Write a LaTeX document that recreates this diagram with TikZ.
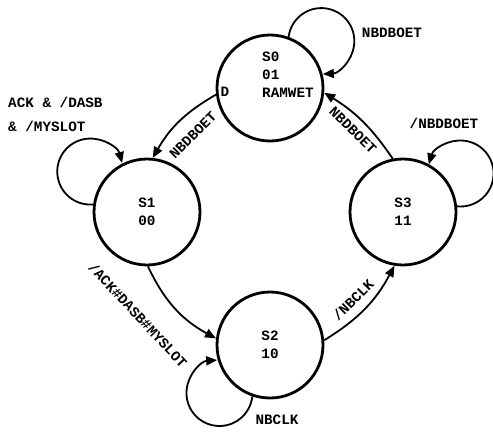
\documentclass[tikz,border=0pt]{standalone}
\usepackage{fontspec}
\setmainfont{Liberation Mono}
\usetikzlibrary{arrows.meta}
\newcommand\lblf{\bfseries\fontsize{14.3pt}{18pt}\selectfont}
\begin{document}
\begin{tikzpicture}[x=1pt,y=1pt,
  state/.style={circle,draw,line width=2.8pt,minimum size=106pt,inner sep=0pt,align=center,font=\lblf},
  txt/.style={font=\lblf,inner sep=0pt},
  edge/.style={line width=1.8pt,-{Triangle[length=11pt,width=9pt]}},
]
\path[use as bounding box] (0,0) rectangle (493,-432);
% states
\node[state] (S0) at (270,-88) {};
\node[txt,anchor=west,align=left] (S0t) at (262,-75) {S0\\01\\RAMWET};
\node[txt] (D) at (225,-92) {D};
\node[state] (S1) at (147,-212) {S1\\00};
\node[state] (S2) at (270,-345) {S2\\10};
\node[state] (S3) at (403,-212) {S3\\11};
% transitions
\draw[edge] (S0.187) to[bend right=15] (S1.84);
\draw[edge] (S1.-89) to[bend right=18] (S2.173);
\draw[edge] (S2.5) to[bend right=15] (S3.-99);
\draw[edge] (S3.101.5) to[bend right=12] (S0.-5);
% self loops
\draw[edge] (S0.70.1) arc[start angle=172.7, end angle=-87.3, radius=33];
\draw[edge] (S1.172.4) arc[start angle=275, end angle=15, radius=33];
\draw[edge] (S2.251.4) arc[start angle=354, end angle=94, radius=33];
\draw[edge] (S3.6.6) arc[start angle=-96, end angle=164, radius=33];
% labels
\node[txt] (L0) at (392,-33) {NBDBOET};
\node[txt,align=left,anchor=west] (L1) at (8,-114) {ACK \& /DASB\\[6pt]\& /MYSLOT};
\node[txt] (L2) at (444,-123) {/NBDBOET};
\node[txt] (L3) at (277,-420) {NBCLK};
\node[txt,rotate=45] (L4) at (193,-135) {NBDBOET};
\node[txt,rotate=-45] (L5) at (353,-130) {NBDBOET};
\node[txt,rotate=-47] (L6) at (138,-315) {/ACK\#DASB\#MYSLOT};
\node[txt,rotate=45] (L7) at (353,-300) {/NBCLK};
\end{tikzpicture}
\end{document}
